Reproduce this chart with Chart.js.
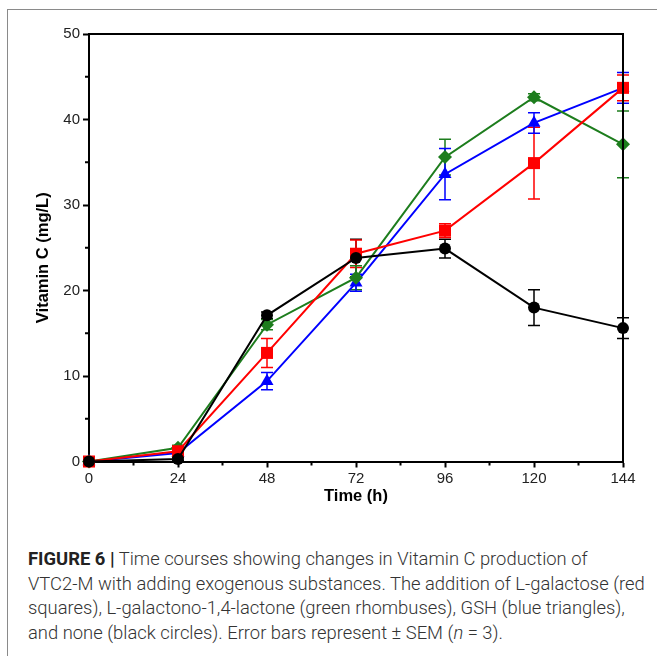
<!DOCTYPE html>
<html>
<head>
<meta charset="utf-8">
<script src="https://cdn.jsdelivr.net/npm/chart.js@4"></script>
<style>
  html, body { margin: 0; padding: 0; background: #fff; overflow: hidden; }
  #frame {
    position: absolute; left: 7px; top: 9px; width: 700px; height: 700px;
    border: 1px solid #8a8a8a;
  }
  #wrap { position: absolute; left: 0; top: 0; width: 657px; height: 520px; }
  #caption {
    position: absolute; left: 28px; top: 547px;
    font-family: "Roboto", "Liberation Sans", sans-serif;
    font-size: 18.4px; line-height: 24.5px; color: #333; font-weight: 300;
    white-space: nowrap;
  }
  #caption b { font-weight: 700; color: #222; }
</style>
</head>
<body>
<div id="frame"></div>
<div id="wrap"><canvas id="vitc"></canvas></div>
<div id="caption">
  <div><b>FIGURE 6 |</b> Time courses showing changes in Vitamin C production of</div>
  <div>VTC2-M with adding exogenous substances. The addition of L-galactose (red</div>
  <div>squares), L-galactono-1,4-lactone (green rhombuses), GSH (blue triangles),</div>
  <div>and none (black circles). Error bars represent ± SEM (<i>n</i> = 3).</div>
</div>
<script>
const times = [0, 24, 48, 72, 96, 120, 144];

// mean values (mg/L)
const noneVals = [0, 0.3, 17.1, 23.8, 24.9, 18.0, 15.6];
const galVals = [0, 1.2, 12.7, 24.3, 27.0, 34.9, 43.7];
const lacVals = [0, 1.6, 16.0, 21.5, 35.6, 42.6, 37.1];
const gshVals = [0, 1.0, 9.4, 20.9, 33.6, 39.6, 43.7];

// SEM
const noneErr = [0, 0.2, 0.4, 2.2, 1.1, 2.1, 1.2];
const galErr = [0, 0.3, 1.7, 1.6, 0.8, 4.2, 1.5];
const lacErr = [0, 0.3, 0.6, 1.4, 2.1, 0.4, 3.9];
const gshErr = [0, 0.3, 1.0, 1.0, 3.0, 1.2, 1.8];

const yTitle = 'Vitamin C (mg/L)';

const toPts = vals => vals.map((v, i) => ({x: times[i], y: v}));

const errorBars = {
  id: 'errorBars',
  beforeDatasetsDraw(chart) {
    const ctx = chart.ctx;
    const xs = chart.scales.x, ys = chart.scales.y;
    chart.data.datasets.forEach(ds => {
      ctx.save();
      ctx.strokeStyle = ds.borderColor;
      ctx.lineWidth = 1.5;
      ds.data.forEach((p, i) => {
        const e = ds.errors[i];
        if (!e) return;
        const px = xs.getPixelForValue(p.x);
        const hi = ys.getPixelForValue(p.y + e);
        const lo = ys.getPixelForValue(p.y - e);
        ctx.beginPath();
        ctx.moveTo(px, hi); ctx.lineTo(px, lo);
        ctx.moveTo(px - 6, hi); ctx.lineTo(px + 6, hi);
        ctx.moveTo(px - 6, lo); ctx.lineTo(px + 6, lo);
        ctx.stroke();
      });
      ctx.restore();
    });
  }
};

const boxAndMinor = {
  id: 'boxAndMinor',
  afterDraw(chart) {
    const ctx = chart.ctx;
    const a = chart.chartArea;
    const xs = chart.scales.x, ys = chart.scales.y;
    ctx.save();
    ctx.strokeStyle = '#000';
    ctx.lineWidth = 2;
    ctx.beginPath();
    ctx.moveTo(a.left - 1, a.top); ctx.lineTo(a.right, a.top); ctx.lineTo(a.right, a.bottom);
    ctx.stroke();
    ctx.beginPath();
    for (let t = 12; t < 144; t += 24) {
      const px = xs.getPixelForValue(t);
      ctx.moveTo(px, a.bottom); ctx.lineTo(px, a.bottom + 4);
    }
    for (let v = 5; v < 50; v += 10) {
      const py = ys.getPixelForValue(v);
      ctx.moveTo(a.left, py); ctx.lineTo(a.left - 4, py);
    }
    ctx.stroke();
    // y axis title, sits a little below the axis middle in the original
    ctx.translate(43, (a.top + a.bottom) / 2 + 10);
    ctx.rotate(-Math.PI / 2);
    ctx.fillStyle = '#000';
    ctx.font = 'bold 16.5px "Liberation Sans"';
    ctx.textAlign = 'center';
    ctx.textBaseline = 'middle';
    ctx.fillText(yTitle, 0, 0);
    ctx.restore();
  }
};

new Chart(document.getElementById('vitc'), {
  type: 'line',
  data: {
    datasets: [
      {label: 'none', data: toPts(noneVals), errors: noneErr, borderColor: '#000000', backgroundColor: '#000000',
       pointStyle: 'circle', pointRadius: 6},
      {label: 'L-galactose', data: toPts(galVals), errors: galErr, borderColor: '#ff0000', backgroundColor: '#ff0000',
       pointStyle: 'rect', pointRadius: 8.5},
      {label: 'L-galactono-1,4-lactone', data: toPts(lacVals), errors: lacErr, borderColor: '#1d7d1d', backgroundColor: '#1d7d1d',
       pointStyle: 'rectRot', pointRadius: 7},
      {label: 'GSH', data: toPts(gshVals), errors: gshErr, borderColor: '#0000ff', backgroundColor: '#0000ff',
       pointStyle: 'triangle', pointRadius: 7.5}
    ].map(d => Object.assign(d, {borderWidth: 2, pointBorderWidth: 0, pointHoverRadius: d.pointRadius, clip: false, tension: 0}))
  },
  options: {
    responsive: true,
    maintainAspectRatio: false,
    animation: false,
    layout: {padding: {top: 34, right: 34, bottom: 0, left: 0}},
    plugins: {legend: {display: false}, tooltip: {enabled: false}},
    scales: {
      x: {
        type: 'linear', min: 0, max: 144,
        afterFit(s) { s.height = 58.5; },
        grid: {drawOnChartArea: false, tickLength: 6, tickWidth: 2, tickColor: '#000'},
        border: {color: '#000', width: 2},
        ticks: {stepSize: 24, padding: 2, color: '#222', font: {family: 'Liberation Sans', size: 15}},
        title: {display: true, text: 'Time (h)', color: '#000', padding: {bottom: 14},
                font: {family: 'Liberation Sans', size: 16.5, weight: 'bold'}}
      },
      y: {
        min: 0, max: 50,
        afterFit(s) { s.width = 89; },
        grid: {drawOnChartArea: false, tickLength: 6, tickWidth: 2, tickColor: '#000'},
        border: {color: '#000', width: 2},
        ticks: {stepSize: 10, padding: 3, color: '#222', font: {family: 'Liberation Sans', size: 15}}
      }
    }
  },
  plugins: [errorBars, boxAndMinor]
});
</script>
</body>
</html>
